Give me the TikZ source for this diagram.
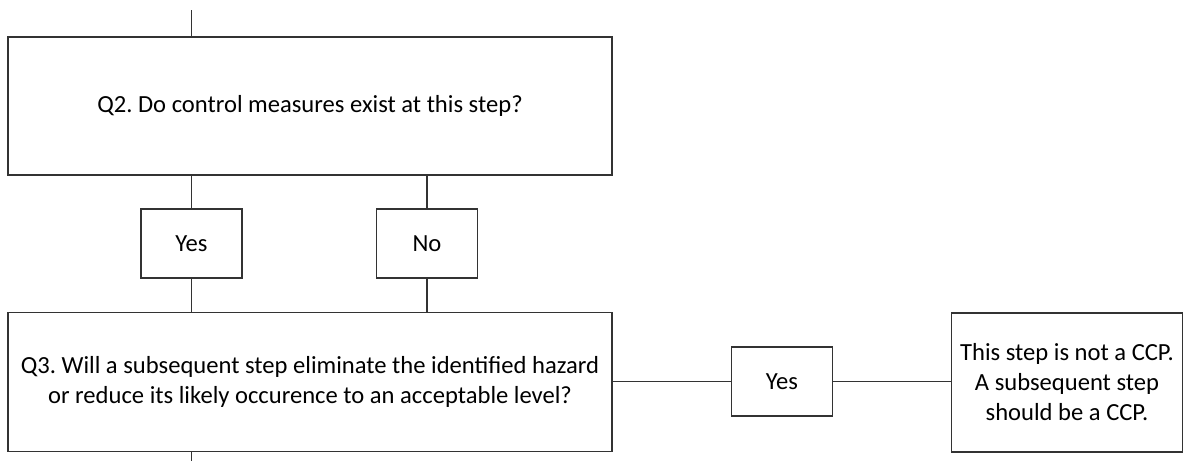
\documentclass[tikz,border=0pt]{standalone}
\usepackage{fontspec}
\setmainfont{Carlito}
\frenchspacing
\begin{document}
\begin{tikzpicture}[x=1pt,y=-1pt,
  box/.style={draw=black!80, line width=1.3pt, rectangle, align=center,
    inner sep=0pt, font=\fontsize{24.6}{30}\selectfont},
  link/.style={draw=black!80, line width=1.3pt}]
\useasboundingbox (0,0) rectangle (1184,461);
% question boxes
\node[box, minimum width=604, minimum height=138] (q2) at (310,106)
  {Q2. Do control measures exist at this step?};
\node[box, minimum width=101, minimum height=69] (yes1) at (191.5,243.5) {Yes};
\node[box, minimum width=101, minimum height=69] (no1) at (427,243.5) {No};
\node[box, minimum width=604, minimum height=139] (q3) at (310,382)
  {Q3. Will a subsequent step eliminate the identified hazard\\
   or reduce its likely occurence to an acceptable level?};
\node[box, minimum width=101, minimum height=69] (yes2) at (782,381.5) {Yes};
\node[box, minimum width=231, minimum height=139] (ccp) at (1067,382.5)
  {This step is not a CCP.\\ A subsequent step\\ should be a CCP.};
% connectors
\coordinate (in) at (191.5,10);
\coordinate (out) at (191.5,461);
\draw[link] (in) -- (in |- q2.north);
\draw[link] (yes1.north) -- (yes1.north |- q2.south);
\draw[link] (no1.north) -- (no1.north |- q2.south);
\draw[link] (yes1.south) -- (yes1.south |- q3.north);
\draw[link] (no1.south) -- (no1.south |- q3.north);
\draw[link] (q3.east |- yes2.west) -- (yes2.west);
\draw[link] (yes2.east) -- (ccp.west |- yes2.east);
\draw[link] (out |- q3.south) -- (out);
\end{tikzpicture}
\end{document}
